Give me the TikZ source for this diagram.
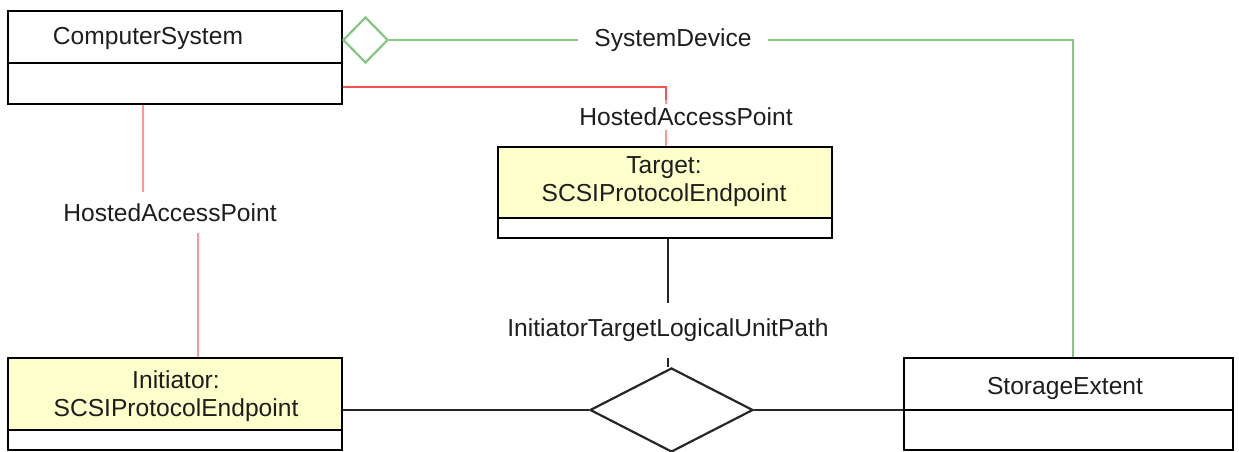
\documentclass[tikz,border=0pt]{standalone}
\usepackage{fontspec}
\setmainfont{Liberation Sans}
\usetikzlibrary{shapes.geometric}
\definecolor{ylw}{RGB}{255,255,204}
\definecolor{grn}{RGB}{130,200,130}
\definecolor{redh}{RGB}{255,80,80}
\definecolor{redv}{RGB}{255,150,150}
\definecolor{txt}{RGB}{30,30,30}
\tikzset{
  cls/.style={draw=black, line width=2.2pt, inner sep=0pt},
  div/.style={draw=black, line width=2.2pt},
  lbl/.style={font=\fontsize{24.6}{28}\selectfont, text=txt, inner sep=0pt, align=center},
  conlbl/.style={lbl, fill=white},
  blk/.style={draw=black!85, line width=2pt},
  grl/.style={draw=grn, line width=2.2pt},
  rdh/.style={draw=redh, line width=1.6pt},
  rdv/.style={draw=redv, line width=2.6pt},
}
\begin{document}
\begin{tikzpicture}[x=1pt,y=-1pt]
\useasboundingbox (0,0) rectangle (1239,452);
% classes
\node[cls, minimum width=334pt, minimum height=93pt] (cs) at (175,57.5) {};
\draw[div] (8,63) -- (342,63);
\node[lbl] (cst) at (148,38) {ComputerSystem};

\node[cls, fill=ylw, minimum width=334pt, minimum height=91pt] (tg) at (665,192.5) {};
\fill[white] (498,218) rectangle (832,238);
\draw[cls] (498,147) rectangle (832,238);
\draw[div] (498,218) -- (832,218);
\node[lbl] (tgt) at (664,182) {Target:\\SCSIProtocolEndpoint};

\node[cls, fill=ylw, minimum width=334pt, minimum height=92pt] (in) at (175,404) {};
\fill[white] (8,430) rectangle (342,450);
\draw[cls] (8,358) rectangle (342,450);
\draw[div] (8,430) -- (342,430);
\node[lbl] (int) at (176,396) {Initiator:\\SCSIProtocolEndpoint};

\node[cls, minimum width=329pt, minimum height=92pt] (se) at (1068.5,404) {};
\draw[div] (904,410) -- (1233,410);
\node[lbl] (set) at (1065,388) {StorageExtent};

% aggregation diamond
\node[diamond, draw=grn, line width=2.2pt, inner sep=0pt, minimum width=45pt, minimum height=46pt] (agg) at (365.5,40) {};
% association diamond
\node[diamond, draw=black!85, line width=2.2pt, inner sep=0pt, minimum width=163pt, minimum height=84pt] (rel) at (671.5,410) {};

% SystemDevice
\draw[grl] (agg.east) -| ([xshift=4.5pt]se.north);
\node[conlbl, minimum width=190pt, minimum height=30pt] (sd) at (673,40) {SystemDevice};

% HostedAccessPoint to target
\draw[rdh] ([yshift=-29.5pt]cs.east) -| (666,120);
\draw[rdv] (666,100) -- ([xshift=1pt]tg.north);
\node[conlbl, minimum height=26pt] (hap2) at (686,117) {HostedAccessPoint};

% HostedAccessPoint to initiator
\node[lbl, minimum height=41pt] (hap1) at (170,212.5) {HostedAccessPoint};
\draw[rdv] ([xshift=-32pt]cs.south) -- (hap1.north -| 143,0);
\draw[rdv] (hap1.south -| 198,0) -- ([xshift=23pt]in.north);

% InitiatorTargetLogicalUnitPath
\draw[blk] ([xshift=3pt]tg.south) -- ([xshift=-3.5pt]rel.north);
\node[conlbl, minimum height=55pt] (itl) at (668,330) {InitiatorTargetLogicalUnitPath};
\draw[blk] ([yshift=-6pt]in.east) -- (rel.west);
\draw[blk] (rel.east) -- ([yshift=-6pt]se.west);
\end{tikzpicture}
\end{document}
